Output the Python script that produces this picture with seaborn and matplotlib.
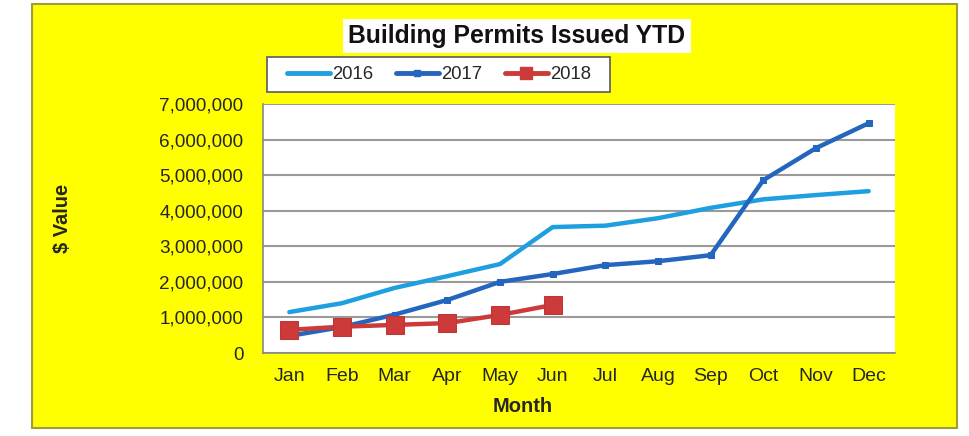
import matplotlib
matplotlib.use("Agg")
import matplotlib.pyplot as plt
import matplotlib.patches as mpatches
import matplotlib.ticker as mticker
from matplotlib.lines import Line2D
import seaborn as sns
import pandas as pd
import numpy as np

months = ["Jan", "Feb", "Mar", "Apr", "May", "Jun", "Jul", "Aug", "Sep", "Oct", "Nov", "Dec"]
v2016 = [1150000, 1400000, 1830000, 2160000, 2500000, 3540000, 3580000, 3790000, 4080000, 4320000, 4440000, 4550000]
v2017 = [480000, 730000, 1080000, 1490000, 2000000, 2220000, 2470000, 2580000, 2750000, 4860000, 5760000, 6460000]
v2018 = [650000, 740000, 790000, 840000, 1070000, 1350000]
series_names = ["2016", "2017", "2018"]

sns.set_theme(style="white")
plt.rcParams['font.family'] = ['Liberation Sans', 'DejaVu Sans']

c16, c17, c18 = "#1E9FE0", "#2466BE", "#CC3A3A"

fig = plt.figure(figsize=(9.69, 4.36), dpi=100)
fig.patch.set_facecolor("white")
# yellow chart area
fig.patches.append(mpatches.Rectangle((32/969, 1-428/436), (957-32)/969, (428-4)/436,
                                      transform=fig.transFigure, facecolor="#FFFF00",
                                      edgecolor="#A09A40", linewidth=1.5, zorder=-10))
# legend frame
fig.patches.append(mpatches.Rectangle((267/969, 1-92/436), (610-267)/969, (92-57)/436,
                                      transform=fig.transFigure, facecolor="white",
                                      edgecolor="#666666", linewidth=1.3, zorder=-5))

ax = fig.add_axes([263/969, 1-353/436, (895-263)/969, (353-104)/436])
ax.set_facecolor("white")
ax.set_zorder(1)

idx = np.arange(len(months))
df16 = pd.DataFrame({"x": idx, "v": v2016})
df17 = pd.DataFrame({"x": idx, "v": v2017})
df18 = pd.DataFrame({"x": idx[:len(v2018)], "v": v2018})

sns.lineplot(data=df16, x="x", y="v", ax=ax, color=c16, linewidth=3.2, zorder=3)
sns.lineplot(data=df17, x="x", y="v", ax=ax, color=c17, linewidth=3.2, marker="s",
             markersize=5, markeredgecolor=c17, zorder=4)
sns.lineplot(data=df18, x="x", y="v", ax=ax, color=c18, linewidth=3.2, marker="s",
             markersize=13, markeredgecolor="#C03535", zorder=5)

ax.set_xlim(-0.5, 11.5)
ax.set_ylim(0, 7000000)
ax.set_xticks(idx)
ax.set_xticklabels(months, fontsize=14)
ax.set_xticks(np.arange(-0.5, 12, 1), minor=True)
ax.tick_params(axis="x", which="major", length=0, pad=11)
ax.tick_params(axis="x", which="minor", length=5, width=1, color="#888888", direction="out")
ax.set_yticks(np.arange(0, 7000001, 1000000))
ax.yaxis.set_major_formatter(mticker.FuncFormatter(lambda v, p: f"{int(v):,}"))
ax.tick_params(axis="y", labelsize=13.6, length=5, width=1, color="#888888", direction="out", pad=9)
ax.grid(axis="y", color="#9A9A9A", linewidth=1.5)
ax.set_axisbelow(True)
for s in ["top", "right"]:
    ax.spines[s].set_visible(False)
for s in ["left", "bottom"]:
    ax.spines[s].set_color("#888888")
    ax.spines[s].set_linewidth(1.2)

ax.set_xlabel("Month", fontsize=14.5, fontweight="bold")
ax.set_ylabel("$ Value", fontsize=14.5, fontweight="bold")
ax.yaxis.set_label_coords(72/969, 0.5, transform=fig.transFigure)
ax.xaxis.set_label_coords(523/969, 1-397/436, transform=fig.transFigure)

fig.text(517/969, 1-36/436, "Building Permits Issued YTD", ha="center", va="center",
         fontsize=17.8, fontweight="bold", color="#111111",
         bbox=dict(facecolor="white", edgecolor="none", pad=4))

handles = [Line2D([], [], color=c16, linewidth=3.5),
           Line2D([], [], color=c17, linewidth=3.5, marker="s", markersize=4, markeredgecolor=c17),
           Line2D([], [], color=c18, linewidth=3.5, marker="s", markersize=8, markeredgecolor=c18)]
leg = ax.legend(handles, series_names, loc="center", bbox_to_anchor=(439/969, 1-74.5/436),
                bbox_transform=fig.transFigure, ncol=3, frameon=False, fontsize=13.3,
                handlelength=2.35, handletextpad=0.12, columnspacing=1.2, borderpad=0.2)

fig.savefig("out.png", dpi=100, facecolor=fig.get_facecolor())
